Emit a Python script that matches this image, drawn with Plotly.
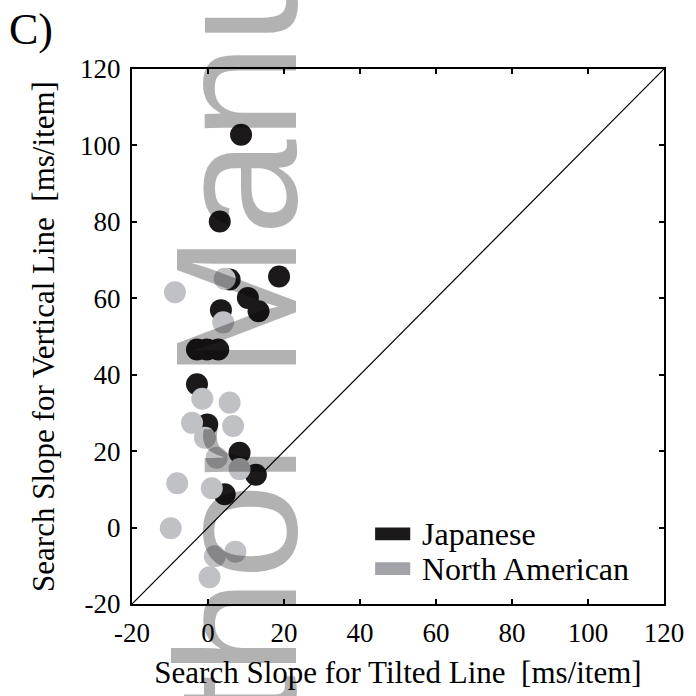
import plotly.graph_objects as go

# Search slopes (ms/item): tilted-line target (x) vs vertical-line target (y)
jp_tilted = [8.7, 3.1, 18.7, 5.7, 10.5, 13.3, 3.4, -2.9, -0.3, 2.7, -2.9, -0.2, 8.3, 12.6, 4.4]
jp_vertical = [102.8, 80.1, 65.7, 64.9, 60.1, 56.6, 56.9, 46.6, 46.6, 46.6, 37.5, 27.0, 19.6, 13.8, 8.7]

na_tilted = [4.4, -8.7, 4.0, -1.5, 5.7, -4.2, 6.6, -0.8, 2.3, 8.3, -8.1, 1.0, -9.8, 1.8, 7.2, 0.4]
na_vertical = [65.1, 61.6, 53.7, 33.7, 32.7, 27.4, 26.6, 23.5, 18.3, 15.3, 11.6, 10.3, -0.2, -7.5, -6.3, -13.0]

groups = ["Japanese", "North American"]
axis_range = [-20, 120]
tick_values = [-20, 0, 20, 40, 60, 80, 100, 120]
tick_labels = ["-20", "0", "20", "40", "60", "80", "100", "120"]

BLACK = "#1c191a"
GRAY = "#c0c1c5"
SERIF = "Liberation Serif"

fig = go.Figure()

# identity line y = x
fig.add_trace(go.Scatter(x=axis_range, y=axis_range, mode="lines",
                         line=dict(color="black", width=1.2),
                         hoverinfo="skip", showlegend=False))

fig.add_trace(go.Scatter(x=jp_tilted, y=jp_vertical, mode="markers", name=groups[0],
                         marker=dict(size=22, color=BLACK, line=dict(width=0)),
                         showlegend=False))
fig.add_trace(go.Scatter(x=na_tilted, y=na_vertical, mode="markers", name=groups[1],
                         marker=dict(size=22, color=GRAY, line=dict(width=0)),
                         showlegend=False))

axis_common = dict(
    range=axis_range, tickvals=tick_values, ticktext=tick_labels,
    showgrid=False, zeroline=False,
    showline=True, linecolor="black", linewidth=2, mirror="ticks",
    ticks="inside", ticklen=5, tickwidth=1.5, tickcolor="black",
    tickfont=dict(family=SERIF, size=27, color="black"),
)

fig.update_layout(
    width=696, height=696,
    margin=dict(l=132, r=24, t=69, b=91),
    paper_bgcolor="white", plot_bgcolor="white",
    xaxis=dict(**axis_common, ticklabelstandoff=4,
               title=dict(text="Search Slope for Tilted Line \u00a0[ms/item]",
                          font=dict(family=SERIF, size=31, color="black"), standoff=14)),
    yaxis=dict(**axis_common, ticklabelstandoff=4,
               title=dict(text="Search Slope for Vertical Line \u00a0[ms/item]",
                          font=dict(family=SERIF, size=31, color="black"), standoff=16)),
)

# legend swatches and labels
legend_colors = [BLACK, "#a2a3a8"]
legend_y = [0.131, 0.066]
for name, col, yc in zip(groups, legend_colors, legend_y):
    fig.add_shape(type="rect", xref="paper", yref="paper",
                  x0=0.457, x1=0.523, y0=yc - 0.012, y1=yc + 0.012,
                  fillcolor=col, line=dict(width=0))
    fig.add_annotation(x=0.542, y=yc, xref="paper", yref="paper",
                       text=name, showarrow=False, xanchor="left", yanchor="middle",
                       font=dict(family=SERIF, size=32, color="black"))

# panel letter
fig.add_annotation(x=-0.235, y=1.123, xref="paper", yref="paper", text="C)",
                   showarrow=False, xanchor="left", yanchor="top",
                   font=dict(family=SERIF, size=44, color="black"))

# manuscript watermark
fig.add_annotation(x=0.196, y=0.69, xref="paper", yref="paper",
                   text="Author Manuscript", showarrow=False, textangle=-90,
                   xanchor="center", yanchor="middle",
                   font=dict(family="Liberation Sans", size=172, color="rgba(0,0,0,0.3)"))

fig.write_html("out.html")
